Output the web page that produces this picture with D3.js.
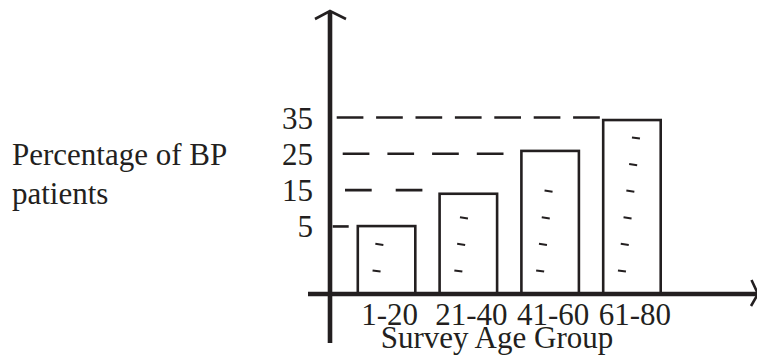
<!DOCTYPE html>
<html>
<head>
<meta charset="utf-8">
<script src="https://cdn.jsdelivr.net/npm/d3@7"></script>
<style>
  html, body { margin: 0; padding: 0; background: #ffffff; }
  svg { display: block; }
</style>
</head>
<body>
<svg id="chart" width="757" height="358"></svg>
<script>
// ---- data ----
const categories = ["1-20", "21-40", "41-60", "61-80"];
const values = [5.1, 14, 25.8, 34.3];
const yTicks = [5, 15, 25, 35];
const hatchCounts = [2, 3, 4, 6];
const yTitleLines = ["Percentage of BP", "patients"];
const xTitle = "Survey Age Group";

// ---- styles (not data) ----
const ink = "#231f20";
const font = "'Liberation Serif', 'Times New Roman', serif";
const fontSize = 31;
// per guide line: start offset from axis, dash pattern
const guideStyles = [
  { start: 2.7, dash: "16,300" },
  { start: 15, dash: "26.7,24" },
  { start: 12.7, dash: "26.7,18" },
  { start: 6.7, dash: "26.7,12.7" }
];

const svg = d3.select("#chart");
svg.append("rect").attr("width", 757).attr("height", 358).attr("fill", "#fff");

const axisX = 330;   // y axis position
const baseY = 294;   // x axis position

const x = d3.scaleBand()
  .domain(categories)
  .range([357.8, 660.7])
  .paddingInner(0.297)
  .paddingOuter(0);

const y = d3.scaleLinear()
  .domain([-13.6, 35])
  .range([baseY, 117.5]);

// guide dashed lines from tick to bar
yTicks.forEach((t, i) => {
  const st = guideStyles[i];
  svg.append("line")
    .attr("x1", axisX + st.start)
    .attr("x2", x(categories[i]) - 3)
    .attr("y1", y(t))
    .attr("y2", y(t))
    .attr("stroke", ink)
    .attr("stroke-width", 2.6)
    .attr("stroke-dasharray", st.dash);
});

// bars
svg.append("g").selectAll("rect")
  .data(values)
  .join("rect")
  .attr("x", (d, i) => x(categories[i]))
  .attr("y", d => y(d))
  .attr("width", x.bandwidth())
  .attr("height", d => baseY - y(d))
  .attr("fill", "#fff")
  .attr("stroke", ink)
  .attr("stroke-width", 2.6);

// hatch dashes inside bars
categories.forEach((c, i) => {
  const cx0 = x(c) + x.bandwidth() / 2 - 10;
  d3.range(hatchCounts[i]).forEach(k => {
    const cx = cx0 + k * 2.8;
    const cy = baseY - 23 - k * 26.6;
    svg.append("line")
      .attr("x1", cx - 4).attr("y1", cy - 0.6)
      .attr("x2", cx + 4).attr("y2", cy + 0.6)
      .attr("stroke", ink)
      .attr("stroke-width", 2);
  });
});

// axes (labels via d3 axes)
const gy = svg.append("g")
  .attr("transform", `translate(${axisX},0)`)
  .call(d3.axisLeft(y).tickValues(yTicks).tickSize(0).tickPadding(17));
gy.select(".domain").remove();
gy.selectAll("text")
  .attr("font-family", font)
  .attr("font-size", fontSize)
  .attr("fill", ink)
  .attr("dy", "0.34em");

const gx = svg.append("g")
  .attr("transform", `translate(0,${baseY})`)
  .call(d3.axisBottom(x).tickSize(0).tickPadding(9));
gx.select(".domain").remove();
gx.selectAll("text")
  .attr("font-family", font)
  .attr("font-size", fontSize)
  .attr("fill", ink)
  .attr("x", 3);

// axis lines
svg.append("line")
  .attr("x1", axisX).attr("x2", axisX)
  .attr("y1", 12).attr("y2", 343)
  .attr("stroke", ink).attr("stroke-width", 4.6);
svg.append("path")
  .attr("d", `M${axisX - 15},19 L${axisX},11 L${axisX + 16},19`)
  .attr("fill", "none").attr("stroke", ink).attr("stroke-width", 2.6);

svg.append("line")
  .attr("x1", 308).attr("x2", 757)
  .attr("y1", baseY).attr("y2", baseY)
  .attr("stroke", ink).attr("stroke-width", 4.4);
svg.append("path")
  .attr("d", `M751.5,280 L758,${baseY} L751,306`)
  .attr("fill", "none").attr("stroke", ink).attr("stroke-width", 2.6);

// titles
const yt = svg.append("text")
  .attr("font-family", font)
  .attr("font-size", fontSize)
  .attr("fill", ink);
yTitleLines.forEach((l, i) => {
  yt.append("tspan").attr("x", 12).attr("y", 165 + i * 39).text(l);
});

svg.append("text")
  .attr("x", 497).attr("y", 348)
  .attr("text-anchor", "middle")
  .attr("font-family", font)
  .attr("font-size", fontSize)
  .attr("fill", ink)
  .text(xTitle);
</script>
</body>
</html>
